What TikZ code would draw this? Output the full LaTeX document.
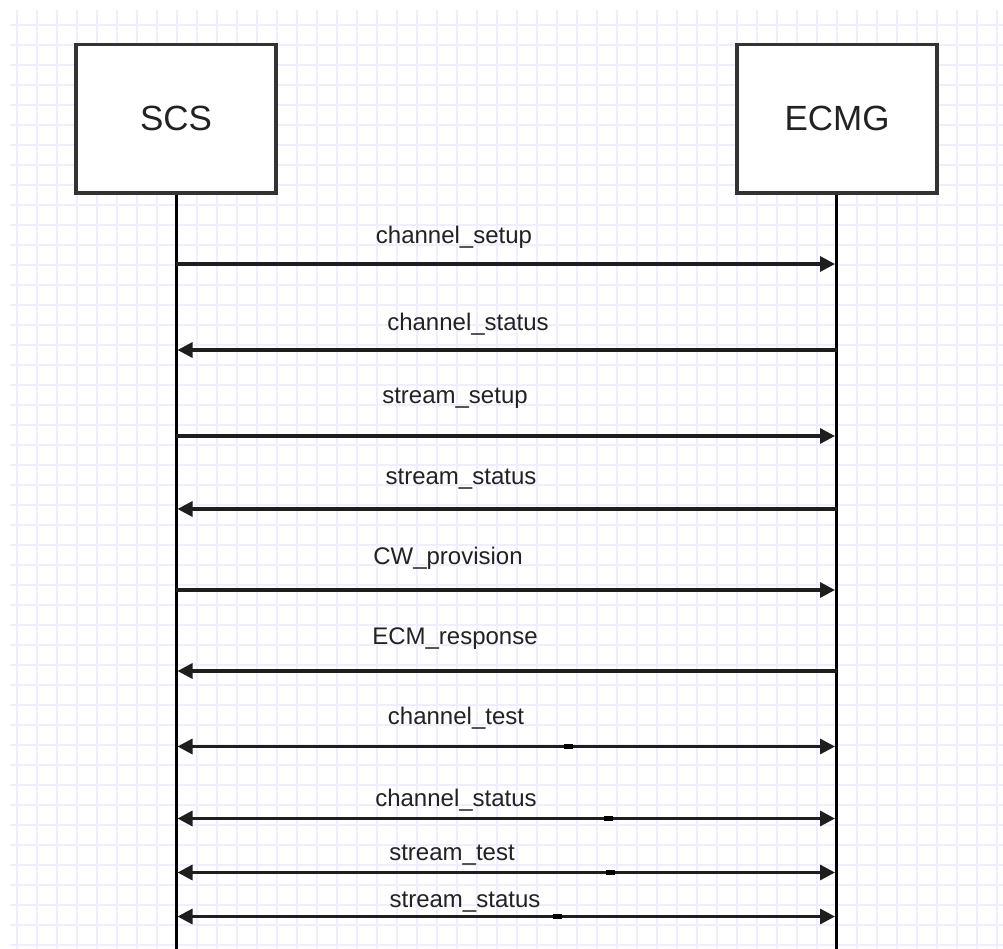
\documentclass[tikz,border=0pt]{standalone}
\usepackage{fontspec}
\setmainfont{Liberation Sans}
\usetikzlibrary{arrows.meta}
\definecolor{gridline}{RGB}{238,238,254}
\definecolor{boxline}{RGB}{51,51,51}
\definecolor{msgline}{RGB}{30,30,30}
\definecolor{textcol}{RGB}{34,34,34}

\begin{document}
\begin{tikzpicture}[x=1pt,y=-1pt,
  gridl/.style={draw=gridline, line width=1.4pt},
  actor/.style={draw=boxline, line width=3.5pt, fill=white,
    minimum width=200pt, minimum height=148.5pt, inner sep=0pt,
    text=textcol, font=\fontsize{35}{40}\selectfont},
  lifeline/.style={draw=black, line width=3pt},
  msg/.style={draw=msgline, line width=3.2pt, -{Triangle[length=15pt,width=15pt]}, shorten >=1.5pt},
  both/.style={draw=msgline, line width=3.2pt,
    {Triangle[length=15pt,width=15pt]}-{Triangle[length=15pt,width=15pt]},
    shorten >=1.5pt, shorten <=1.5pt},
  lbl/.style={text=textcol, inner sep=0pt, font=\fontsize{24}{28}\selectfont},
  tick/.style={fill=black, draw=none, minimum width=9pt, minimum height=4.5pt, inner sep=0pt}
]
% page and grid
\path[fill=white, use as bounding box] (0,0) rectangle (1003,949);
\foreach \x in {17,37,...,997} \draw[gridl] (\x,10) -- (\x,949);
\foreach \y in {25,45,...,945} \draw[gridl] (10,\y) -- (1003,\y);

% participants
\node[actor] (scs) at (176,118.75) {SCS};
\node[actor] (ecmg) at (837,118.75) {ECMG};

% lifeline ends
\coordinate (scsend) at (176,949);
\coordinate (ecmgend) at (836.5,949);
\draw[lifeline] (scs.south) -- (scsend);
\draw[lifeline] (ecmg.south -| ecmgend) -- (ecmgend);

% message anchors on the lifelines
\foreach \n/\y in {1/264,2/350,3/436,4/509,5/590,6/671,7/746.5,8/818.5,9/872.5,10/916.5}{
  \coordinate (s\n) at (176,\y);
  \coordinate (e\n) at (836.5,\y);
}

% one-way messages
\draw[msg] (s1) -- (e1);
\draw[msg] (e2) -- (s2);
\draw[msg] (s3) -- (e3);
\draw[msg] (e4) -- (s4);
\draw[msg] (s5) -- (e5);
\draw[msg] (e6) -- (s6);

% two-way messages
\draw[both] (s7) -- node[tick, pos=0.594] (t7) {} (e7);
\draw[both] (s8) -- node[tick, pos=0.655] (t8) {} (e8);
\draw[both] (s9) -- node[tick, pos=0.658] (t9) {} (e9);
\draw[both] (s10) -- node[tick, pos=0.577] (t10) {} (e10);

% message labels
\node[lbl] (l1) at (454,237) {channel\_setup};
\node[lbl] (l2) at (468,324) {channel\_status};
\node[lbl] (l3) at (455,398) {stream\_setup};
\node[lbl] (l4) at (461,479) {stream\_status};
\node[lbl] (l5) at (448,558) {CW\_provision};
\node[lbl] (l6) at (455,639) {ECM\_response};
\node[lbl] (l7) at (456,718) {channel\_test};
\node[lbl] (l8) at (456,800) {channel\_status};
\node[lbl] (l9) at (452,855) {stream\_test};
\node[lbl] (l10) at (465,902) {stream\_status};
\end{tikzpicture}
\end{document}
